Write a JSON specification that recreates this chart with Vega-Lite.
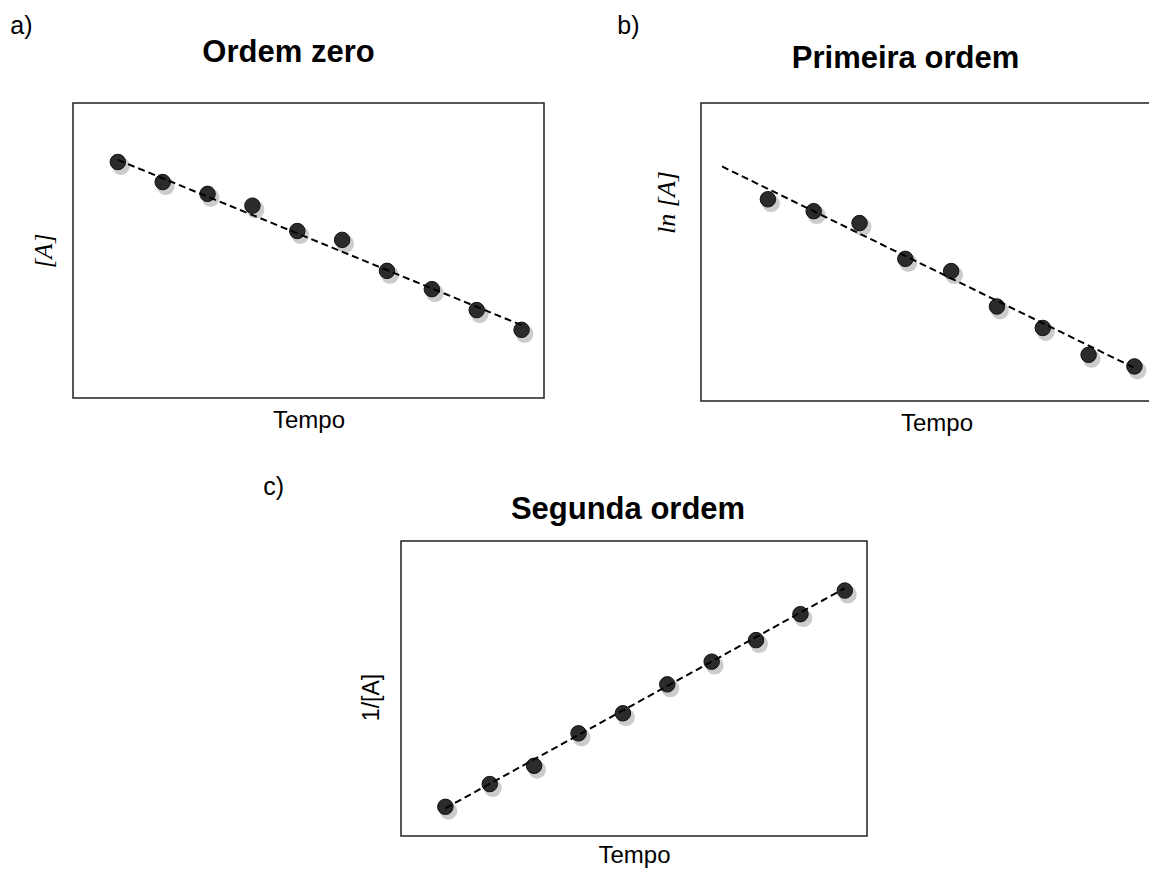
{
  "$schema": "https://vega.github.io/schema/vega-lite/v6.json",
  "padding": {"left": 10, "top": 14, "right": 0, "bottom": 0},
  "background": "white",
  "config": {
    "view": {"stroke": "#222", "strokeWidth": 1.5},
    "axis": {"grid": false, "ticks": false, "labels": false, "domain": false, "titleFont": "Liberation Sans", "titleFontWeight": "normal", "titleColor": "#000"},
    "title": {"font": "Liberation Sans", "color": "#000"}
  },
  "datasets": {
    "all": [
      {"panel": "a", "kind": "pt", "t": 1, "v": 80.0},
      {"panel": "a", "kind": "pt", "t": 2, "v": 73.2},
      {"panel": "a", "kind": "pt", "t": 3, "v": 69.2},
      {"panel": "a", "kind": "pt", "t": 4, "v": 65.2},
      {"panel": "a", "kind": "pt", "t": 5, "v": 56.6},
      {"panel": "a", "kind": "pt", "t": 6, "v": 53.6},
      {"panel": "a", "kind": "pt", "t": 7, "v": 43.1},
      {"panel": "a", "kind": "pt", "t": 8, "v": 36.9},
      {"panel": "a", "kind": "pt", "t": 9, "v": 29.8},
      {"panel": "a", "kind": "pt", "t": 10, "v": 23.1},
      {"panel": "a", "kind": "fit", "t": 1, "v": 80.7},
      {"panel": "a", "kind": "fit", "t": 10, "v": 24.7},
      {"panel": "b", "kind": "pt", "t": 2, "v": 67.7},
      {"panel": "b", "kind": "pt", "t": 3, "v": 63.7},
      {"panel": "b", "kind": "pt", "t": 4, "v": 59.7},
      {"panel": "b", "kind": "pt", "t": 5, "v": 47.7},
      {"panel": "b", "kind": "pt", "t": 6, "v": 43.6},
      {"panel": "b", "kind": "pt", "t": 7, "v": 31.7},
      {"panel": "b", "kind": "pt", "t": 8, "v": 24.5},
      {"panel": "b", "kind": "pt", "t": 9, "v": 15.5},
      {"panel": "b", "kind": "pt", "t": 10, "v": 11.6},
      {"panel": "b", "kind": "fit", "t": 1, "v": 78.7},
      {"panel": "b", "kind": "fit", "t": 10, "v": 11.1},
      {"panel": "c", "kind": "pt", "t": 1, "v": 9.9},
      {"panel": "c", "kind": "pt", "t": 2, "v": 17.6},
      {"panel": "c", "kind": "pt", "t": 3, "v": 23.8},
      {"panel": "c", "kind": "pt", "t": 4, "v": 34.8},
      {"panel": "c", "kind": "pt", "t": 5, "v": 41.6},
      {"panel": "c", "kind": "pt", "t": 6, "v": 51.4},
      {"panel": "c", "kind": "pt", "t": 7, "v": 59.1},
      {"panel": "c", "kind": "pt", "t": 8, "v": 66.4},
      {"panel": "c", "kind": "pt", "t": 9, "v": 75.2},
      {"panel": "c", "kind": "pt", "t": 10, "v": 83.2},
      {"panel": "c", "kind": "fit", "t": 1, "v": 9.4},
      {"panel": "c", "kind": "fit", "t": 10, "v": 84.0}
    ]
  },
  "spacing": 39,
  "vconcat": [
    {
      "spacing": 72,
      "hconcat": [
        {
          "title": {"text": "a)", "anchor": "start", "fontSize": 25, "fontWeight": "normal", "offset": -3, "dx": -20},
          "vconcat": [
            {
              "width": 471,
              "height": 295,
              "title": {"text": "Ordem zero", "fontSize": 31, "fontWeight": "bold", "anchor": "middle", "frame": "group", "dx": -20, "offset": 34},
              "data": {"name": "all"},
              "transform": [{"filter": "datum.panel === 'a'"}],
              "encoding": {
                "x": {"field": "t", "type": "quantitative", "scale": {"domain": [0, 10.5], "nice": false, "zero": false}, "axis": {"title": "Tempo", "titleFontSize": 24, "titlePadding": 10}},
                "y": {"field": "v", "type": "quantitative", "scale": {"domain": [0, 100], "nice": false, "zero": false}, "axis": {"title": "[A]", "titleFont": "Liberation Serif", "titleFontStyle": "italic", "titleFontSize": 25, "titlePadding": 17}}
              },
              "layer": [
                {"transform": [{"filter": "datum.kind === 'pt'"}], "mark": {"type": "point", "filled": true, "color": "#555", "opacity": 0.3, "size": 320, "xOffset": 3, "yOffset": 4, "strokeWidth": 0}},
                {"transform": [{"filter": "datum.kind === 'pt'"}], "mark": {"type": "point", "filled": true, "fill": "#2b2b2b", "stroke": "#111", "strokeWidth": 1, "size": 240, "opacity": 1}},
                {"transform": [{"filter": "datum.kind === 'fit'"}], "mark": {"type": "line", "strokeDash": [7, 4], "strokeWidth": 2, "color": "#000"}}
              ]
            }
          ]
        },
        {
          "title": {"text": "b)", "anchor": "start", "fontSize": 25, "fontWeight": "normal", "offset": 3, "dx": -35},
          "vconcat": [
            {
              "width": 471,
              "height": 298,
              "title": {"text": "Primeira ordem", "fontSize": 31, "fontWeight": "bold", "anchor": "middle", "frame": "group", "dx": -31, "offset": 28},
              "data": {"name": "all"},
              "transform": [{"filter": "datum.panel === 'b'"}],
              "encoding": {
                "x": {"field": "t", "type": "quantitative", "scale": {"domain": [0.54, 10.82], "nice": false, "zero": false}, "axis": {"title": "Tempo", "titleFontSize": 24, "titlePadding": 10}},
                "y": {"field": "v", "type": "quantitative", "scale": {"domain": [0, 100], "nice": false, "zero": false}, "axis": {"title": "ln [A]", "titleFont": "Liberation Serif", "titleFontStyle": "italic", "titleFontSize": 26, "titlePadding": 22, "titleY": 99}}
              },
              "layer": [
                {"transform": [{"filter": "datum.kind === 'pt'"}], "mark": {"type": "point", "filled": true, "color": "#555", "opacity": 0.3, "size": 320, "xOffset": 3, "yOffset": 4, "strokeWidth": 0}},
                {"transform": [{"filter": "datum.kind === 'pt'"}], "mark": {"type": "point", "filled": true, "fill": "#2b2b2b", "stroke": "#111", "strokeWidth": 1, "size": 240, "opacity": 1}},
                {"transform": [{"filter": "datum.kind === 'fit'"}], "mark": {"type": "line", "strokeDash": [7, 4], "strokeWidth": 2, "color": "#000"}}
              ]
            }
          ]
        }
      ]
    },
    {
      "spacing": 20,
      "hconcat": [
        {"width": 170, "height": 10, "data": {"values": []}, "mark": "point", "view": {"stroke": null}},
        {
          "title": {"text": "c)", "anchor": "start", "fontSize": 25, "fontWeight": "normal", "offset": -7, "dx": -96},
          "vconcat": [
            {
              "width": 466,
              "height": 295,
              "title": {"text": "Segunda ordem", "fontSize": 31, "fontWeight": "bold", "anchor": "middle", "frame": "group", "dx": -6, "offset": 15},
              "data": {"name": "all"},
              "transform": [{"filter": "datum.panel === 'c'"}],
              "encoding": {
                "x": {"field": "t", "type": "quantitative", "scale": {"domain": [0, 10.5], "nice": false, "zero": false}, "axis": {"title": "Tempo", "titleFontSize": 24, "titlePadding": 7}},
                "y": {"field": "v", "type": "quantitative", "scale": {"domain": [0, 100], "nice": false, "zero": false}, "axis": {"title": "1/[A]", "titleFont": "Liberation Sans", "titleFontSize": 23, "titlePadding": 18, "titleY": 156}}
              },
              "layer": [
                {"transform": [{"filter": "datum.kind === 'pt'"}], "mark": {"type": "point", "filled": true, "color": "#555", "opacity": 0.3, "size": 320, "xOffset": 3, "yOffset": 4, "strokeWidth": 0}},
                {"transform": [{"filter": "datum.kind === 'pt'"}], "mark": {"type": "point", "filled": true, "fill": "#2b2b2b", "stroke": "#111", "strokeWidth": 1, "size": 240, "opacity": 1}},
                {"transform": [{"filter": "datum.kind === 'fit'"}], "mark": {"type": "line", "strokeDash": [7, 4], "strokeWidth": 2, "color": "#000"}}
              ]
            }
          ]
        }
      ]
    }
  ]
}
